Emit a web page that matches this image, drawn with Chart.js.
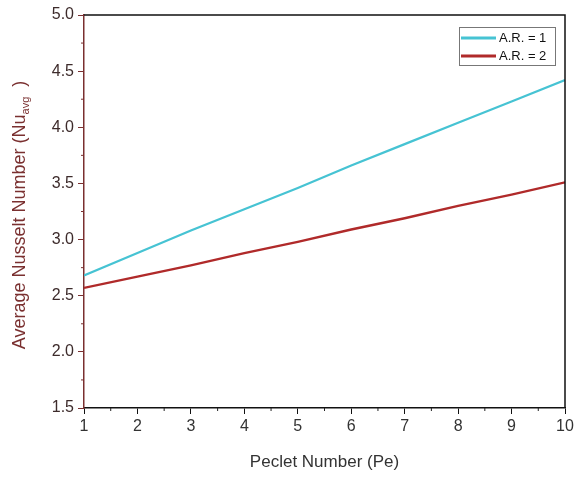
<!DOCTYPE html>
<html lang="en">
<head>
    <meta charset="UTF-8">
    <title>Average Nusselt Number vs Peclet Number</title>
    <script src="https://cdn.jsdelivr.net/npm/chart.js"></script>
    <style>
        body {
            margin: 0;
            padding: 0;
            background: #fff;
        }
        .chart-box {
            width: 574px;
            height: 477px;
            position: relative;
        }
    </style>
</head>
<body>
    <div class="chart-box">
        <canvas id="nuChart"></canvas>
    </div>

    <script>
        // values
        const pecletNumbers = [1, 2, 3, 4, 5, 6, 7, 8, 9, 10];
        const nuAR1 = [2.68, 2.88, 3.08, 3.27, 3.46, 3.66, 3.85, 4.04, 4.23, 4.42];
        const nuAR2 = [2.57, 2.67, 2.77, 2.88, 2.98, 3.09, 3.19, 3.30, 3.40, 3.51];
        const seriesLabels = ['A.R. = 1', 'A.R. = 2'];
        const xTicks = [1, 2, 3, 4, 5, 6, 7, 8, 9, 10];
        const yTicks = [1.5, 2.0, 2.5, 3.0, 3.5, 4.0, 4.5, 5.0];

        const cyan = '#46c3d3';
        const red = '#b02a2a';
        const maroon = '#7a3030';
        const fontFam = '"Liberation Sans", Arial, sans-serif';

        function toPoints(xs, ys) {
            return xs.map((x, i) => ({ x: x, y: ys[i] }));
        }

        // frame, minor ticks, y title with subscript and the boxed legend
        const extras = {
            id: 'extras',
            afterDraw(chart) {
                const ctx = chart.ctx;
                const a = chart.chartArea;
                const xs = chart.scales.x;
                const ys = chart.scales.y;
                ctx.save();

                // top and right border
                ctx.strokeStyle = '#111';
                ctx.lineWidth = 1.5;
                ctx.beginPath();
                ctx.moveTo(a.left, a.top);
                ctx.lineTo(a.right, a.top);
                ctx.lineTo(a.right, a.bottom);
                ctx.stroke();

                // minor ticks
                ctx.lineWidth = 1;
                ctx.strokeStyle = '#222';
                for (let v = 1.5; v < 10; v += 1) {
                    const px = xs.getPixelForValue(v);
                    ctx.beginPath();
                    ctx.moveTo(px, a.bottom);
                    ctx.lineTo(px, a.bottom + 3);
                    ctx.stroke();
                }
                ctx.strokeStyle = maroon;
                for (let v = 1.75; v < 5; v += 0.5) {
                    const py = ys.getPixelForValue(v);
                    ctx.beginPath();
                    ctx.moveTo(a.left, py);
                    ctx.lineTo(a.left - 3, py);
                    ctx.stroke();
                }

                // y axis title
                ctx.translate(25, 215);
                ctx.rotate(-Math.PI / 2);
                ctx.fillStyle = maroon;
                ctx.textBaseline = 'alphabetic';
                const main = 'Average Nusselt Number (Nu';
                const sub = 'avg';
                const tail = '  )';
                ctx.font = '18px ' + fontFam;
                const w1 = ctx.measureText(main).width;
                const w3 = ctx.measureText(tail).width;
                ctx.font = '11px ' + fontFam;
                const w2 = ctx.measureText(sub).width;
                let x0 = -(w1 + w2 + w3) / 2;
                ctx.font = '18px ' + fontFam;
                ctx.fillText(main, x0, 0);
                ctx.font = '11px ' + fontFam;
                ctx.fillText(sub, x0 + w1, 4);
                ctx.font = '18px ' + fontFam;
                ctx.fillText(tail, x0 + w1 + w2, 0);
                ctx.setTransform(1, 0, 0, 1, 0, 0);

                // legend
                const lx = 459, ly = 27, lw = 96, lh = 38;
                ctx.fillStyle = '#fff';
                ctx.fillRect(lx, ly, lw, lh);
                ctx.strokeStyle = '#777';
                ctx.lineWidth = 1;
                ctx.strokeRect(lx + 0.5, ly + 0.5, lw, lh);
                ctx.font = '13px ' + fontFam;
                ctx.textBaseline = 'middle';
                chart.data.datasets.forEach((ds, i) => {
                    const yy = ly + 11 + i * 18;
                    ctx.strokeStyle = ds.borderColor;
                    ctx.lineWidth = 3;
                    ctx.beginPath();
                    ctx.moveTo(lx + 2, yy);
                    ctx.lineTo(lx + 37, yy);
                    ctx.stroke();
                    ctx.fillStyle = '#111';
                    ctx.fillText(ds.label, lx + 40, yy);
                });
                ctx.restore();
            }
        };

        const ctx = document.getElementById('nuChart').getContext('2d');
        const nuChart = new Chart(ctx, {
            type: 'line',
            data: {
                datasets: [{
                    label: seriesLabels[0],
                    data: toPoints(pecletNumbers, nuAR1),
                    borderColor: cyan,
                    borderWidth: 2.2,
                    pointRadius: 0,
                    tension: 0
                }, {
                    label: seriesLabels[1],
                    data: toPoints(pecletNumbers, nuAR2),
                    borderColor: red,
                    borderWidth: 2.4,
                    pointRadius: 0,
                    tension: 0
                }]
            },
            options: {
                responsive: true,
                maintainAspectRatio: false,
                animation: false,
                layout: {
                    padding: { left: 0, top: 15, right: 9, bottom: 0 }
                },
                plugins: {
                    legend: { display: false },
                    tooltip: { enabled: false }
                },
                scales: {
                    x: {
                        type: 'linear',
                        min: 1,
                        max: 10,
                        afterBuildTicks: s => { s.ticks = xTicks.map(v => ({ value: v })); },
                        afterFit: s => {
                            s.height = 69;
                            s.paddingLeft = 0;
                            s.paddingRight = 0;
                        },
                        border: { color: '#111', width: 1.5 },
                        grid: { drawOnChartArea: false, drawTicks: true, tickLength: 6, color: '#111' },
                        ticks: {
                            color: '#333',
                            padding: 3,
                            font: { size: 16, family: fontFam }
                        },
                        title: {
                            display: true,
                            text: 'Peclet Number (Pe)',
                            color: '#333',
                            padding: { top: 12 },
                            font: { size: 17, family: fontFam }
                        }
                    },
                    y: {
                        type: 'linear',
                        min: 1.5,
                        max: 5,
                        afterBuildTicks: s => { s.ticks = yTicks.map(v => ({ value: v })); },
                        afterFit: s => {
                            s.width = 84;
                            s.paddingTop = 0;
                            s.paddingBottom = 0;
                        },
                        border: { color: maroon, width: 1.5 },
                        grid: { drawOnChartArea: false, drawTicks: true, tickLength: 6, color: maroon },
                        ticks: {
                            color: '#3d2b2b',
                            padding: 4,
                            callback: v => v.toFixed(1),
                            font: { size: 16, family: fontFam }
                        }
                    }
                }
            },
            plugins: [extras]
        });
    </script>
</body>
</html>
